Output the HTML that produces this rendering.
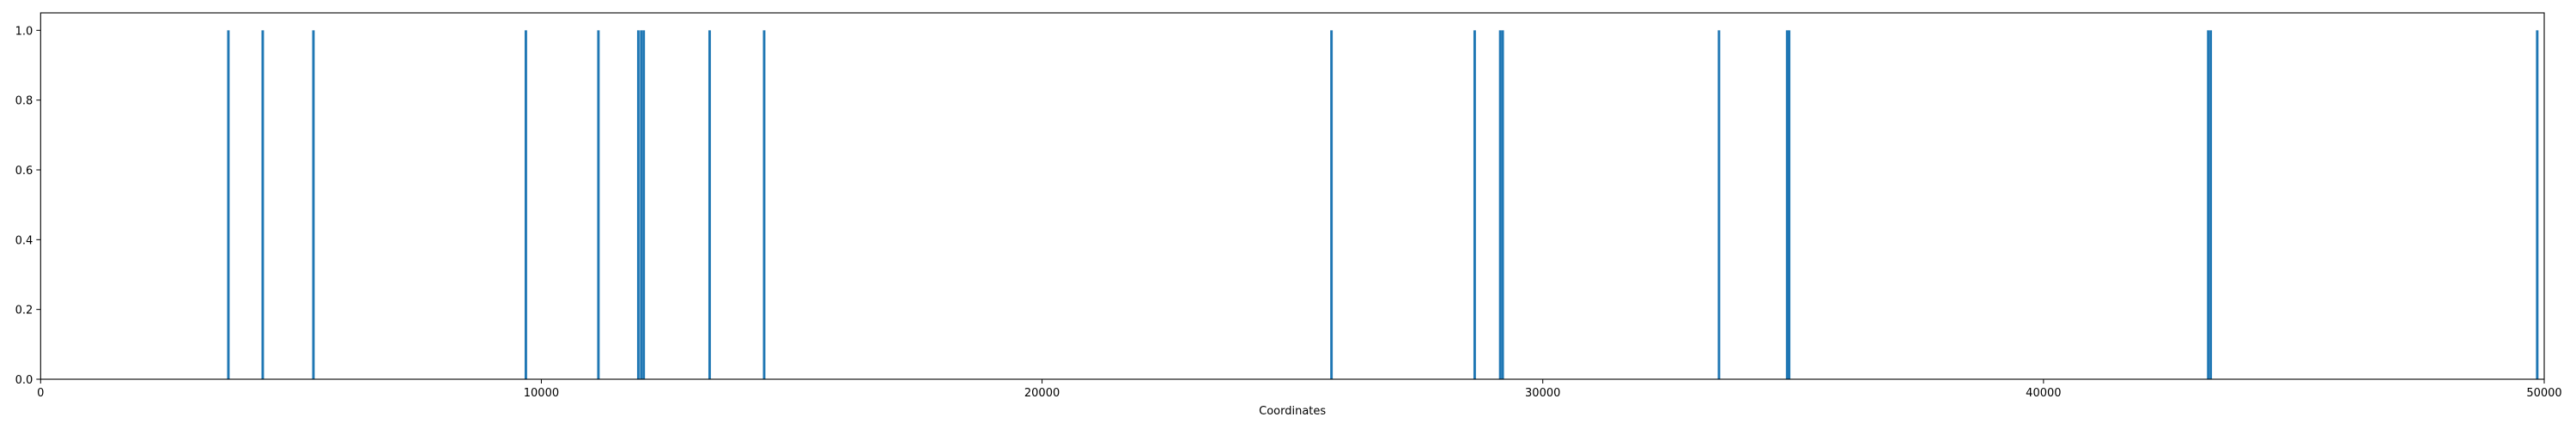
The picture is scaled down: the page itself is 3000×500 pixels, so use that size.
<!DOCTYPE html>
<html><head><meta charset="utf-8"><style>
html,body{margin:0;padding:0;background:#fff;width:3000px;height:500px;overflow:hidden}
svg text{font-family:"DejaVu Sans","Liberation Sans",sans-serif;font-size:13px;fill:#000}
</style></head><body>
<svg id="chart" width="3000" height="500" xmlns="http://www.w3.org/2000/svg">
<rect x="0" y="0" width="3000" height="500" fill="#fff"/>
<g id="bars"></g>
<g id="axes"></g>
</svg>
<script>
const positions = [3750, 4436, 5448, 9691, 11140, 11937, 11995, 12045, 13361, 14450, 25780, 28640, 29150, 29200, 33519, 34880, 34920, 43290, 43340, 49860];
const heights = [1,1,1,1,1,1,1,1,1,1,1,1,1,1,1,1,1,1,1,1];
const barWidth = 50;
const xTicks = [0, 10000, 20000, 30000, 40000, 50000];
const yTicks = [0, 0.2, 0.4, 0.6, 0.8, 1.0];
const xMin = 0, xMax = 50000, yMin = 0, yMax = 1.05;

const L = 47.3, R = 2963, T = 15, B = 442;
const ns = "http://www.w3.org/2000/svg";
function xs(v){ return L + (v - xMin) / (xMax - xMin) * (R - L); }
function ys(v){ return B - (v - yMin) / (yMax - yMin) * (B - T); }
function mk(tag, attrs, parent){ const e = document.createElementNS(ns, tag); for (const k in attrs) e.setAttribute(k, attrs[k]); parent.appendChild(e); return e; }

const gb = document.getElementById('bars');
positions.forEach((p, i) => {
  const x0 = xs(p - barWidth/2), x1 = xs(p + barWidth/2);
  const r = mk('rect', {x: x0, y: ys(heights[i]), width: Math.max(x1 - x0, 2), height: ys(0) - ys(heights[i]), fill: '#1f77b4'}, gb);
  
  
});

const ga = document.getElementById('axes');
const frame = mk('rect', {x: L, y: T, width: R - L, height: B - T, fill: 'none', stroke: '#000', 'stroke-width': 1.1}, ga);


xTicks.forEach(t => {
  const x = xs(t);
  mk('line', {x1: x, x2: x, y1: B, y2: B + 5, stroke: '#000', 'stroke-width': 1}, ga);
  const tx = mk('text', {x: x, y: B + 20, 'text-anchor': 'middle'}, ga);
  tx.textContent = String(t);
  
  
});
yTicks.forEach(t => {
  const y = ys(t);
  mk('line', {x1: L - 5, x2: L, y1: y, y2: y, stroke: '#000', 'stroke-width': 1}, ga);
  const tx = mk('text', {x: L - 9, y: y + 5, 'text-anchor': 'end'}, ga);
  tx.textContent = t.toFixed(1);
  
  
});
const xl = mk('text', {x: (L + R) / 2, y: 483, 'text-anchor': 'middle'}, ga);
xl.textContent = 'Coordinates';


</script>
</body></html>
